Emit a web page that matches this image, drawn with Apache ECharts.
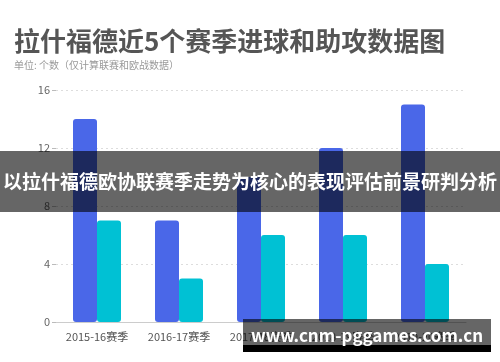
<!DOCTYPE html>
<html>
<head>
<meta charset="utf-8">
<script src="https://cdn.jsdelivr.net/npm/echarts@6/dist/echarts.min.js"></script>
<style>
  html, body { margin: 0; padding: 0; background: #fff; }
  #chart { width: 500px; height: 362px; }
</style>
</head>
<body>
<div id="chart"></div>
<script>
const seasons = ['2015-16赛季', '2016-17赛季', '2017-18赛季', '2018-19赛季', '2019-20赛季']
const goals = [14, 7, 10, 12, 15]
const assists = [7, 3, 6, 6, 4]
const yTicks = [0, 4, 8, 12, 16]

const chart = echarts.init(document.getElementById('chart'))
const font = '"Noto Sans CJK SC", "Noto Sans", sans-serif'

chart.setOption({
  animation: false,
  textStyle: { fontFamily: font },
  title: {
    text: '拉什福德近5个赛季进球和助攻数据图',
    subtext: '单位: 个数（仅计算联赛和欧战数据）',
    left: 9,
    top: 23,
    itemGap: 6,
    textStyle: { fontSize: 26, fontWeight: 'bold', color: '#555', fontFamily: font },
    subtextStyle: { fontSize: 10, color: '#999', fontFamily: font },
  },
  grid: { left: 56, right: 34, top: 90, bottom: 40 },
  xAxis: {
    type: 'category',
    data: seasons,
    axisLine: { lineStyle: { color: '#ccc' } },
    axisTick: { show: false },
    axisLabel: { color: '#555', fontSize: 11, margin: 9 },
  },
  yAxis: {
    type: 'value',
    min: yTicks[0],
    max: yTicks[yTicks.length - 1],
    interval: 4,
    axisLine: { show: false },
    axisTick: { show: true, length: 4, lineStyle: { color: '#bbb' } },
    axisLabel: { color: '#666', fontSize: 11, margin: 6 },
    splitLine: { lineStyle: { color: '#ddd', type: [2, 3] } },
  },
  series: [
    {
      name: '进球',
      type: 'bar',
      data: goals,
      barWidth: 24,
      barGap: '0%',
      itemStyle: { color: '#4a67e8', borderRadius: 3 },
    },
    {
      name: '助攻',
      type: 'bar',
      data: assists,
      barWidth: 24,
      itemStyle: { color: '#00c1d4', borderRadius: 3 },
    },
  ],
  graphic: [
    {
      type: 'rect',
      shape: { x: 0, y: 151, width: 500, height: 61 },
      style: { fill: 'rgba(0,0,0,0.6)' },
      z: 100,
    },
    {
      type: 'text',
      x: 250,
      y: 182,
      style: {
        text: '以拉什福德欧协联赛季走势为核心的表现评估前景研判分析',
        fill: '#fff',
        font: 'bold 19px ' + font,
        align: 'center',
        verticalAlign: 'middle',
      },
      z: 101,
    },
    {
      type: 'rect',
      shape: { x: 243, y: 319, width: 248, height: 26 },
      style: { fill: 'rgba(0,0,0,0.6)' },
      z: 100,
    },
    {
      type: 'rect',
      shape: { x: 243, y: 345, width: 248, height: 7 },
      style: { fill: '#000' },
      z: 100,
    },
    {
      type: 'text',
      x: 367,
      y: 336,
      style: {
        text: 'www.cnm-pggames.com.cn',
        fill: '#fff',
        font: 'bold 17px ' + font,
        align: 'center',
        verticalAlign: 'middle',
      },
      z: 101,
    },
  ],
})
</script>
</body>
</html>
